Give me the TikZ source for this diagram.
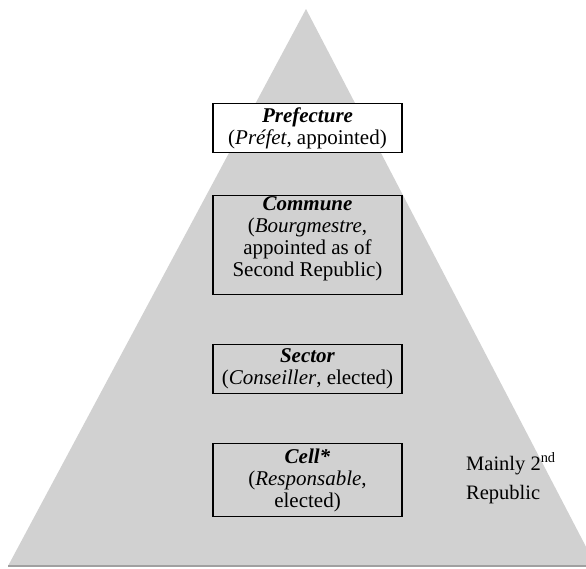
\documentclass[tikz,border=0pt]{standalone}
\usepackage{fontspec}
\setmainfont{Liberation Serif}
\definecolor{trigray}{RGB}{209,209,209}
\definecolor{edgegray}{RGB}{160,160,160}
\tikzset{
  levelbox/.style={draw=black, line width=1.8pt, minimum width=189pt, inner sep=0pt, align=center,
    font=\fontsize{21}{22}\selectfont},
  notetext/.style={inner sep=0pt, align=left, font=\fontsize{20.5}{29}\selectfont}
}
\begin{document}
\begin{tikzpicture}[x=1pt,y=-1pt]
\useasboundingbox (0,0) rectangle (586,568);
\clip (0,0) rectangle (586,568);
\fill[trigray] (306,9) -- (8,566) -- (596,566) -- cycle;
\draw[edgegray, line width=1.2pt] (8,566) -- (596,566);
\node[levelbox, fill=white, minimum height=49pt] (pref) at (307.5,128)
  {\textbf{\textit{Prefecture}}\\(\textit{Préfet}, appointed)};
\node[levelbox, minimum height=99pt] (comm) at (307.5,245)
  {\textbf{\textit{Commune}}\\(\textit{Bourgmestre},\\appointed as of\\Second Republic)\\[-6pt]};
\node[levelbox, minimum height=49pt] (sect) at (307.5,369)
  {\textbf{\textit{Sector}}\\(\textit{Conseiller}, elected)};
\node[levelbox, minimum height=73pt] (cell) at (307.5,480)
  {\textbf{\textit{Cell*}}\\(\textit{Responsable},\\elected)};
\node[notetext, anchor=west] (note) at (466,478)
  {Mainly 2\textsuperscript{nd}\\Republic};
\end{tikzpicture}
\end{document}
